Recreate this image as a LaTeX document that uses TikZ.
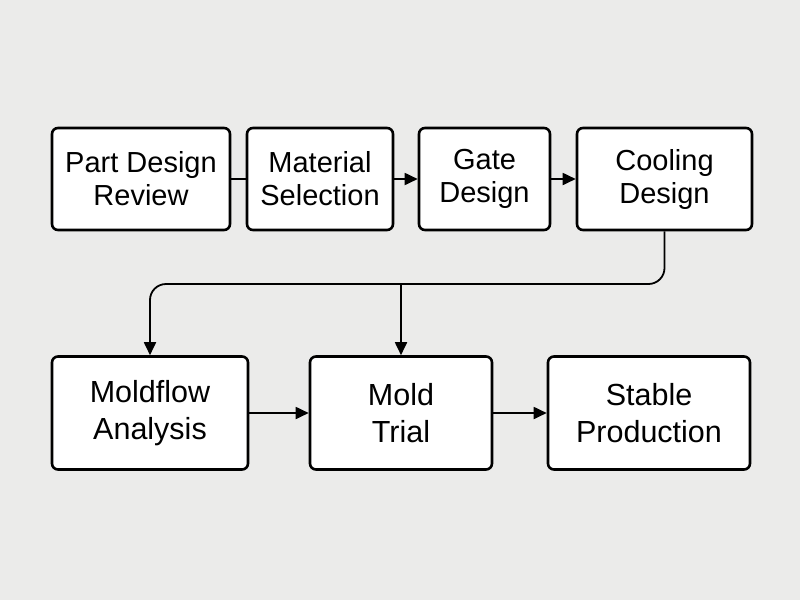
\documentclass[tikz,border=0pt]{standalone}
\usepackage{fontspec}
\setmainfont{Liberation Sans}
\usetikzlibrary{arrows.meta}
\definecolor{bg}{HTML}{EBEBEA}
\begin{document}
\begin{tikzpicture}[x=1pt,y=-1pt,
  box/.style={draw=black,line width=2.6pt,rounded corners=6pt,fill=white,inner sep=0pt,align=center,font=\fontsize{29}{33}\selectfont},
  conn/.style={line width=1.8pt,-{Triangle[length=13pt,width=12pt]}}]
\fill[bg] (0,0) rectangle (800,600);
\node[box,minimum width=178pt,minimum height=102pt] (pdr) at (141,179) {Part Design\\Review};
\node[box,minimum width=146pt,minimum height=102pt] (ms) at (320,179) {Material\\Selection};
\node[box,minimum width=131pt,minimum height=102pt] (gd) at (484.5,179) {Gate\\Design};
\node[box,minimum width=175pt,minimum height=102pt] (cd) at (664.5,179) {Cooling\\Design};
\node[box,minimum width=196pt,minimum height=113pt,font=\fontsize{30.5}{37}\selectfont] (mf) at (150,413) {Moldflow\\Analysis};
\node[box,minimum width=182pt,minimum height=113pt,font=\fontsize{30.5}{37}\selectfont] (mt) at (401,413) {Mold\\Trial};
\node[box,minimum width=202pt,minimum height=113pt,font=\fontsize{30.5}{37}\selectfont] (sp) at (649,413) {Stable\\Production};
\coordinate (j) at (401,284);
\draw[line width=1.8pt] (pdr) -- (ms);
\draw[conn] (ms) -- (gd);
\draw[conn] (gd) -- (cd);
\draw[conn,rounded corners=16pt] (cd.south) |- (j) -| (mf.north);
\draw[conn] (j) -- (mt.north);
\draw[conn] (mf) -- (mt);
\draw[conn] (mt) -- (sp);
\end{tikzpicture}
\end{document}
